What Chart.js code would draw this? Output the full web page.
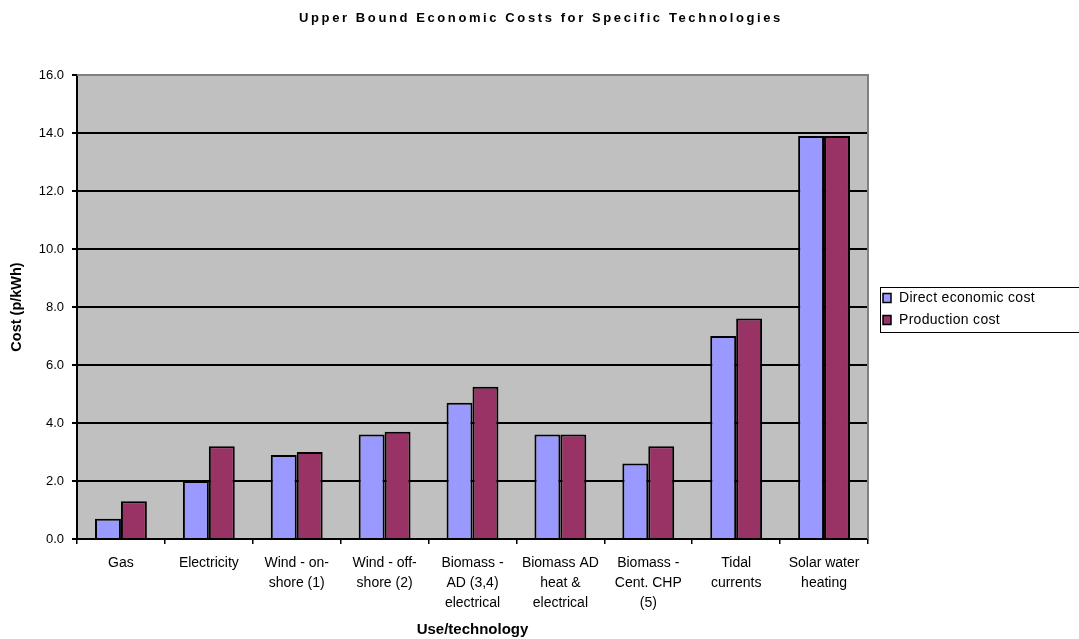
<!DOCTYPE html>
<html>
<head>
<meta charset="utf-8">
<script src="https://cdn.jsdelivr.net/npm/chart.js@4"></script>
<style>
html,body{margin:0;padding:0;background:#fff;}
#wrap{width:1079px;height:639px;position:relative;}
</style>
</head>
<body>
<div id="wrap"><canvas id="c" width="1079" height="639"></canvas></div>
<script>
const chartTitle = "Upper Bound Economic Costs for Specific Technologies";
const categories = [
  ["Gas"],
  ["Electricity"],
  ["Wind - on-", "shore (1)"],
  ["Wind - off-", "shore (2)"],
  ["Biomass -", "AD (3,4)", "electrical"],
  ["Biomass AD", "heat &", "electrical"],
  ["Biomass -", "Cent. CHP", "(5)"],
  ["Tidal", "currents"],
  ["Solar water", "heating"]
];
const directEconomicCost = [0.7, 2.0, 2.9, 3.6, 4.7, 3.6, 2.6, 7.0, 13.9];
const productionCost = [1.3, 3.2, 3.0, 3.7, 5.25, 3.6, 3.2, 7.6, 13.9];
const seriesNames = ["Direct economic cost", "Production cost"];
const seriesColors = ["#9999FF", "#993366"];
const yMin = 0, yMax = 16, yStep = 2;

const FONT = "'Liberation Sans', Arial, sans-serif";

const bgPlugin = {
  id: 'bg',
  beforeDraw(chart) {
    const {ctx, chartArea: a} = chart;
    ctx.save();
    ctx.fillStyle = '#C0C0C0';
    ctx.fillRect(a.left, a.top, a.right - a.left, a.bottom - a.top);
    ctx.restore();
  },
  afterDatasetsDraw(chart) {
    const {ctx, chartArea: a} = chart;
    ctx.save();
    ctx.strokeStyle = '#808080';
    ctx.lineWidth = 2;
    ctx.beginPath();
    ctx.moveTo(a.left, a.top);
    ctx.lineTo(a.right, a.top);
    ctx.lineTo(a.right, a.bottom);
    ctx.stroke();
    ctx.restore();
  },
  afterDraw(chart) {
    const ctx = chart.ctx;
    ctx.save();
    // title
    ctx.fillStyle = '#000';
    ctx.font = "bold 13px " + FONT;
    ctx.letterSpacing = '2.6px';
    ctx.textAlign = 'center';
    ctx.textBaseline = 'middle';
    ctx.fillText(chartTitle, 541, 18);
    // legend
    ctx.strokeStyle = '#000';
    ctx.lineWidth = 1;
    ctx.strokeRect(880.5, 287.5, 210, 45);
    ctx.font = "14px " + FONT;
    ctx.letterSpacing = '0.3px';
    ctx.textAlign = 'left';
    chart.data.datasets.forEach((ds, i) => {
      const y = 298 + i * 22;
      ctx.fillStyle = ds.backgroundColor;
      ctx.fillRect(883, y - 4.5, 8, 9);
      ctx.lineWidth = 1.5;
      ctx.strokeRect(883, y - 4.5, 8, 9);
      ctx.fillStyle = '#000';
      ctx.fillText(ds.label, 899, y + 0.5);
    });
    ctx.restore();
  }
};

new Chart(document.getElementById('c'), {
  type: 'bar',
  data: {
    labels: categories,
    datasets: [
      {label: seriesNames[0], data: directEconomicCost, backgroundColor: seriesColors[0], borderColor: '#000', borderWidth: 2, borderSkipped: 'bottom'},
      {label: seriesNames[1], data: productionCost, backgroundColor: seriesColors[1], borderColor: '#000', borderWidth: 2, borderSkipped: 'bottom'}
    ]
  },
  plugins: [bgPlugin],
  options: {
    responsive: false,
    animation: false,
    layout: {padding: {left: 0, right: 211, top: 75, bottom: 0}},
    datasets: {bar: {categoryPercentage: 0.59, barPercentage: 1.0}},
    plugins: {legend: {display: false}, tooltip: {enabled: false}, title: {display: false}},
    scales: {
      x: {
        afterFit(s) { s.height = 100; },
        grid: {offset: true, drawOnChartArea: false, drawTicks: true, tickLength: 5, color: '#000', lineWidth: 1.5},
        border: {display: true, color: '#000', width: 2},
        ticks: {color: '#000', font: {family: FONT, size: 14, lineHeight: 1.43}, padding: 9, maxRotation: 0, autoSkip: false},
        title: {display: true, text: 'Use/technology', color: '#000', font: {family: FONT, size: 15, weight: 'bold'}, padding: {top: 0, bottom: 0}}
      },
      y: {
        min: yMin, max: yMax,
        afterFit(s) { s.width = 77; },
        grid: {color: (c) => (c.tick && c.tick.value === yMax) ? '#808080' : '#000', lineWidth: 2, drawTicks: true, tickLength: 5, tickColor: '#000'},
        border: {display: true, color: '#000', width: 2},
        ticks: {stepSize: yStep, color: '#000', font: {family: FONT, size: 13}, padding: 8, callback: (v) => Number(v).toFixed(1)},
        title: {display: true, text: 'Cost (p/kWh)', color: '#000', font: {family: FONT, size: 14.5, weight: 'bold'}, padding: {top: 8, bottom: 0}}
      }
    }
  }
});
</script>
</body>
</html>
